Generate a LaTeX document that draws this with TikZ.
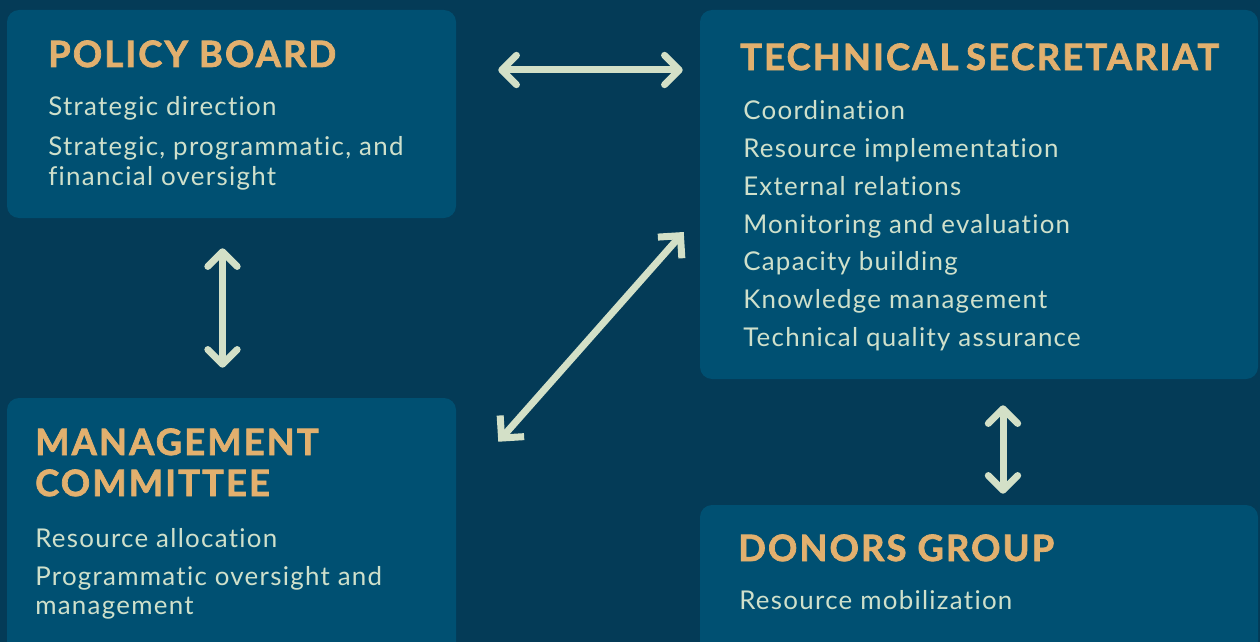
\documentclass[tikz,border=0pt]{standalone}
\usepackage{fontspec}
\setmainfont{Lato}
\newfontfamily\itemfont{Lato}[LetterSpace=5, Ligatures=NoCommon]
\newfontfamily\headfont{Lato}[LetterSpace=6, FakeBold=2]
\usetikzlibrary{arrows.meta,calc,positioning}

\definecolor{bgblue}{HTML}{043B57}
\definecolor{boxblue}{HTML}{005072}
\definecolor{gold}{HTML}{E2B06E}
\definecolor{mint}{HTML}{D3E0C7}
\definecolor{itemmint}{HTML}{CFE0CB}

\def\px{0.75pt}

\begin{document}
\begin{tikzpicture}[x=\px,y=-\px]
    \tikzstyle{panel}=[fill=boxblue, rounded corners=9pt, inner sep=0pt]
    \tikzstyle{head}=[text=gold, anchor=base west, inner sep=0pt, font=\fontsize{27.2pt}{30pt}\selectfont\headfont\bfseries]
    \tikzstyle{item}=[text=itemmint, anchor=base west, inner sep=0pt, font=\fontsize{19.4pt}{22.5pt}\selectfont\itemfont]
    \tikzstyle{link}=[draw=mint, line width=5.25pt, line cap=round,
        {Straight Barb[length=11pt,width=22pt,line cap=round,line join=round]}-{Straight Barb[length=11pt,width=22pt,line cap=round,line join=round]}]
    \tikzstyle{sharp link}=[link,
        {Straight Barb[length=12pt,width=24pt,line cap=butt,line join=miter]}-{Straight Barb[length=12pt,width=24pt,line cap=butt,line join=miter]}]

    % Background
    \useasboundingbox (0,0) rectangle (1260,642);
    \clip (0,0) rectangle (1260,642);
    \fill[bgblue] (0,0) rectangle (1260,642);

    % Draw the four panels
    \node[panel, minimum width=449*\px, minimum height=208*\px] (pb) at (231.5,114) {};
    \node[panel, minimum width=558*\px, minimum height=369*\px] (ts) at (979,194.5) {};
    \node[panel, minimum width=449*\px, minimum height=260*\px] (mc) at (231.5,528) {};
    \node[panel, minimum width=558*\px, minimum height=160*\px] (dg) at (979,585) {};

    % Policy board
    \node[head] (pb-head) at (48,67) {POLICY BOARD};
    \node[item] (pb-1) at (48,116) {Strategic direction};
    \node[item] (pb-2) at (48,155) {Strategic, programmatic, and};
    \node[item] (pb-3) at (48,185) {financial oversight};

    % Technical secretariat
    \node[head] (ts-head) at (740,70) {TECHNICAL\hspace{-2.5pt} SECRETARIAT};
    \node[item] (ts-1) at (743,119) {Coordination};
    \node[item] (ts-2) at (743,157) {Resource implementation};
    \node[item] (ts-3) at (743,195) {External relations};
    \node[item] (ts-4) at (743,233) {Monitoring and evaluation};
    \node[item] (ts-5) at (743,270) {Capacity building};
    \node[item] (ts-6) at (743,308) {Knowledge management};
    \node[item] (ts-7) at (743,346) {Technical quality assurance};

    % Management committee
    \node[head] (mc-head) at (35,455) {MANAGEMENT};
    \node[head] (mc-head2) at (35,496) {COMMITTEE};
    \node[item] (mc-1) at (35,547) {Resource allocation};
    \node[item] (mc-2) at (35,585) {Programmatic oversight and};
    \node[item] (mc-3) at (35,614) {management};

    % Donors group
    \node[head] (dg-head) at (738,561) {DONORS GROUP};
    \node[item] (dg-1) at (739,609) {Resource mobilization};

    % Connect the panels
    \draw[link] ($(pb.east |- ts-head.base)+(42,0)$) -- ($(ts.west |- ts-head.base)+(-17,0)$);
    \draw[link] ($(pb.south)+(-9,30)$) -- ($(mc.north)+(-9,-30)$);
    \draw[sharp link] ($(mc.north east)+(42,44)$) -- ($(ts.west)+(-16,37.5)$);
    \draw[link] ($(ts.south)+(24,26)$) -- ($(dg.north)+(24,-11)$);
\end{tikzpicture}
\end{document}
